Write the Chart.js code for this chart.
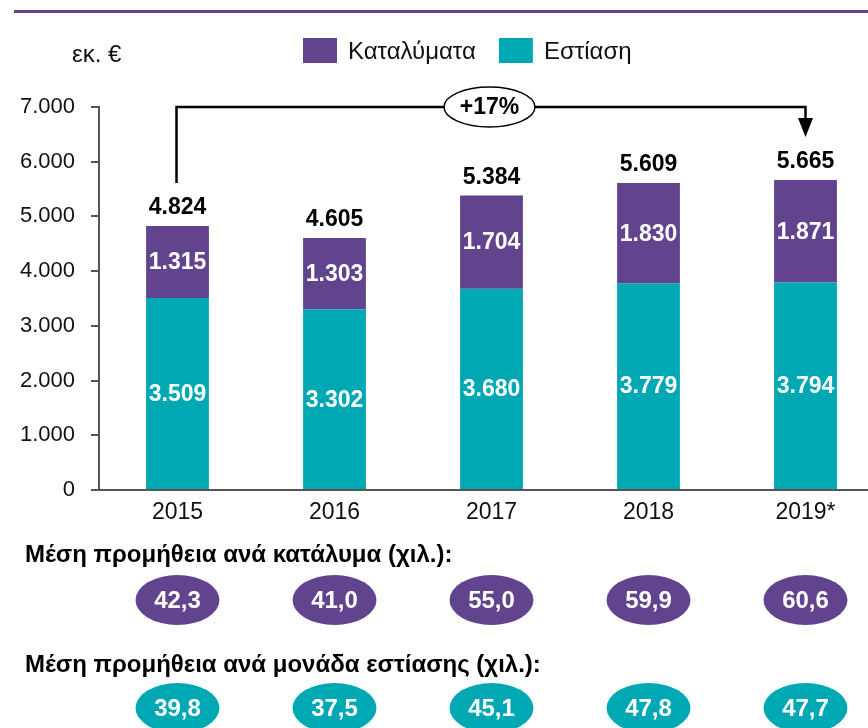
<!DOCTYPE html>
<html><head><meta charset="utf-8">
<script src="https://cdn.jsdelivr.net/npm/chart.js@4.4.0/dist/chart.umd.min.js"></script>
<style>html,body{margin:0;padding:0;overflow:hidden;background:#fff}#wrap{position:relative;width:884px;height:728px}</style>
</head><body><div id="wrap"><canvas id="c" width="884" height="728"></canvas></div>
<script>
// ---- data ----
const years = ['2015', '2016', '2017', '2018', '2019*'];
const seriesNames = ['Καταλύματα', 'Εστίαση'];
const accommodation = [1315, 1303, 1704, 1830, 1871];
const foodService = [3509, 3302, 3680, 3779, 3794];
const avgAccommodation = [42.3, 41.0, 55.0, 59.9, 60.6];
const avgFoodService = [39.8, 37.5, 45.1, 47.8, 47.7];
const yMin = 0, yMax = 7000, yStep = 1000;
const unitLabel = 'εκ. €';
const rowTitleAccommodation = 'Μέση προμήθεια ανά κατάλυμα (χιλ.):';
const rowTitleFood = 'Μέση προμήθεια ανά μονάδα εστίασης (χιλ.):';

const PURPLE = '#61448D';
const TEAL = '#00A8B4';
const FONT = "'Liberation Sans', Arial, sans-serif";

const fmtInt = n => String(Math.round(n)).replace(/\B(?=(\d{3})+(?!\d))/g, '.');
const fmtDec = n => n.toFixed(1).replace('.', ',');
const totals = years.map((_, i) => accommodation[i] + foodService[i]);
const growthPct = Math.round((totals[totals.length - 1] / totals[0] - 1) * 100);

Chart.defaults.font.family = FONT;
Chart.defaults.color = '#111';

const overlay = {
  id: 'overlay',
  afterDatasetsDraw(chart) {
    const ctx = chart.ctx;
    const xs = chart.scales.x, ys = chart.scales.y;
    const W = chart.width;
    ctx.save();
    // top rule
    ctx.fillStyle = PURPLE;
    ctx.fillRect(14, 10, W - 14, 3);

    // unit label
    ctx.fillStyle = '#111';
    ctx.font = '24px ' + FONT;
    ctx.textAlign = 'left'; ctx.textBaseline = 'middle';
    ctx.fillText(unitLabel, 72, 55);

    // legend
    const legendItems = [[seriesNames[0], PURPLE], [seriesNames[1], TEAL]];
    ctx.font = '24px ' + FONT;
    let lx = 303;
    legendItems.forEach(([name, col]) => {
      ctx.fillStyle = col;
      ctx.fillRect(lx, 38, 34, 25);
      ctx.fillStyle = '#111';
      ctx.fillText(name, lx + 45, 52);
      lx += 45 + ctx.measureText(name).width + 23;
    });

    // segment labels
    ctx.textAlign = 'center'; ctx.textBaseline = 'middle';
    ctx.font = 'bold 23px ' + FONT;
    ctx.fillStyle = '#fff';
    chart.data.datasets.forEach((ds, di) => {
      const meta = chart.getDatasetMeta(di);
      meta.data.forEach((bar, i) => {
        const p = bar.getProps(['x', 'y', 'base'], true);
        ctx.fillText(fmtInt(ds.data[i]), p.x, (p.y + p.base) / 2 + 1);
      });
    });
    // totals
    ctx.fillStyle = '#000';
    totals.forEach((t, i) => {
      ctx.fillText(fmtInt(t), xs.getPixelForValue(i), ys.getPixelForValue(t) - 18);
    });

    // growth bracket
    const n = totals.length - 1;
    const xa = xs.getPixelForValue(0) - 1, xb = xs.getPixelForValue(n);
    const yTop = ys.getPixelForValue(yMax);
    const ya = ys.getPixelForValue(totals[0]) - 43;
    const yb = ys.getPixelForValue(totals[n]) - 43;
    ctx.strokeStyle = '#000'; ctx.lineWidth = 2.5;
    ctx.beginPath();
    ctx.moveTo(xa, ya); ctx.lineTo(xa, yTop); ctx.lineTo(xb, yTop); ctx.lineTo(xb, yb - 17);
    ctx.stroke();
    ctx.fillStyle = '#000';
    ctx.beginPath();
    ctx.moveTo(xb - 7.5, yb - 19); ctx.lineTo(xb + 7.5, yb - 19); ctx.lineTo(xb, yb); ctx.closePath();
    ctx.fill();
    const xm = (xs.getPixelForValue(2)) - 2;
    ctx.beginPath();
    ctx.ellipse(xm, yTop, 45.5, 20, 0, 0, Math.PI * 2);
    ctx.fillStyle = '#fff'; ctx.fill();
    ctx.lineWidth = 1.5; ctx.stroke();
    ctx.fillStyle = '#000';
    ctx.font = 'bold 23px ' + FONT;
    ctx.fillText('+' + growthPct + '%', xm, yTop + 1);

    // bubble rows
    const rows = [
      [rowTitleAccommodation, avgAccommodation, PURPLE, 555, 600],
      [rowTitleFood, avgFoodService, TEAL, 665, 708]
    ];
    rows.forEach(([title, vals, col, ty, by]) => {
      ctx.textAlign = 'left';
      ctx.fillStyle = '#000';
      ctx.font = 'bold 24px ' + FONT;
      ctx.fillText(title, 25, ty);
      ctx.textAlign = 'center';
      vals.forEach((v, i) => {
        const cx = xs.getPixelForValue(i);
        ctx.beginPath();
        ctx.ellipse(cx, by, 42, 25, 0, 0, Math.PI * 2);
        ctx.fillStyle = col; ctx.fill();
        ctx.fillStyle = '#fff';
        ctx.font = 'bold 24px ' + FONT;
        ctx.fillText(fmtDec(v), cx, by + 1);
      });
    });
    ctx.restore();
  }
};

new Chart(document.getElementById('c'), {
  type: 'bar',
  data: {
    labels: years,
    datasets: [
      { label: seriesNames[1], data: foodService, backgroundColor: TEAL, stack: 's' },
      { label: seriesNames[0], data: accommodation, backgroundColor: PURPLE, stack: 's' }
    ]
  },
  options: {
    responsive: false,
    animation: false,
    events: [],
    layout: { padding: { top: 107, bottom: 198, left: 0, right: 0 } },
    datasets: { bar: { barPercentage: 0.4, categoryPercentage: 1 } },
    plugins: { legend: { display: false }, tooltip: { enabled: false } },
    scales: {
      x: {
        stacked: true,
        grid: { display: false, drawTicks: false },
        border: { display: true, color: '#555', width: 2 },
        ticks: { font: { size: 23 }, color: '#111', padding: 9 },
        afterFit: s => { s.height = 40; }
      },
      y: {
        stacked: true,
        min: yMin, max: yMax,
        ticks: { stepSize: yStep, font: { size: 22 }, color: '#111', padding: 16, callback: v => fmtInt(v) },
        grid: { drawOnChartArea: false, drawTicks: true, tickLength: 8, color: '#555', lineWidth: 2 },
        border: { display: true, color: '#555', width: 2 },
        afterFit: s => { s.width = 99; }
      }
    }
  },
  plugins: [overlay]
});
</script>
</body></html>
